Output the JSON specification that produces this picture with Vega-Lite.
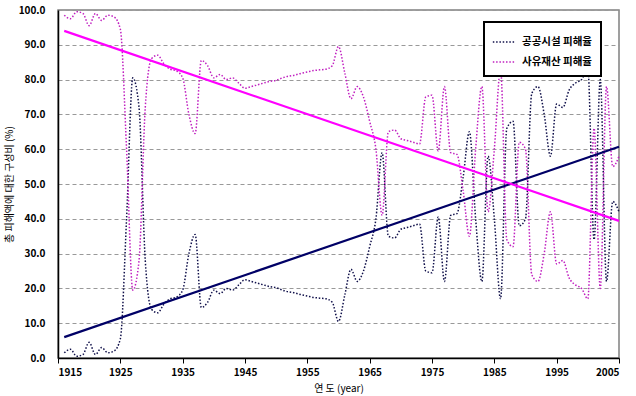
{
  "$schema": "https://vega.github.io/schema/vega-lite/v6.json",
  "width": 561,
  "height": 348,
  "autosize": {"type": "none"},
  "padding": {"left": 58, "top": 10, "right": 17, "bottom": 38},
  "background": "white",
  "config": {
    "font": "Noto Sans CJK KR",
    "view": {"stroke": "#808080", "strokeWidth": 1.5},
    "axis": {
      "labelFont": "Noto Sans CJK KR",
      "labelFontSize": 10,
      "labelFontWeight": "bold",
      "labelColor": "#000000",
      "titleFont": "Noto Sans CJK KR",
      "titleFontSize": 10,
      "titleFontWeight": "normal",
      "titleColor": "#000000",
      "domainColor": "#000000",
      "domainWidth": 1.5,
      "tickColor": "#000000"
    }
  },
  "datasets": {
    "obs": [
      {"year":1916,"series":"공공시설 피해율","value":1.5},{"year":1916,"series":"사유재산 피해율","value":98.5},
      {"year":1917,"series":"공공시설 피해율","value":2.5},{"year":1917,"series":"사유재산 피해율","value":97.5},
      {"year":1918,"series":"공공시설 피해율","value":0.5},{"year":1918,"series":"사유재산 피해율","value":99.5},
      {"year":1919,"series":"공공시설 피해율","value":1.0},{"year":1919,"series":"사유재산 피해율","value":99.0},
      {"year":1920,"series":"공공시설 피해율","value":4.5},{"year":1920,"series":"사유재산 피해율","value":95.5},
      {"year":1921,"series":"공공시설 피해율","value":1.0},{"year":1921,"series":"사유재산 피해율","value":99.0},
      {"year":1922,"series":"공공시설 피해율","value":3.0},{"year":1922,"series":"사유재산 피해율","value":97.0},
      {"year":1923,"series":"공공시설 피해율","value":1.5},{"year":1923,"series":"사유재산 피해율","value":98.5},
      {"year":1924,"series":"공공시설 피해율","value":2.0},{"year":1924,"series":"사유재산 피해율","value":98.0},
      {"year":1925,"series":"공공시설 피해율","value":5.5},{"year":1925,"series":"사유재산 피해율","value":94.5},
      {"year":1926,"series":"공공시설 피해율","value":40.0},{"year":1926,"series":"사유재산 피해율","value":60.0},
      {"year":1927,"series":"공공시설 피해율","value":80.5},{"year":1927,"series":"사유재산 피해율","value":19.5},
      {"year":1928,"series":"공공시설 피해율","value":72.0},{"year":1928,"series":"사유재산 피해율","value":28.0},
      {"year":1929,"series":"공공시설 피해율","value":28.0},{"year":1929,"series":"사유재산 피해율","value":72.0},
      {"year":1930,"series":"공공시설 피해율","value":14.0},{"year":1930,"series":"사유재산 피해율","value":86.0},
      {"year":1931,"series":"공공시설 피해율","value":13.0},{"year":1931,"series":"사유재산 피해율","value":87.0},
      {"year":1932,"series":"공공시설 피해율","value":15.5},{"year":1932,"series":"사유재산 피해율","value":84.5},
      {"year":1933,"series":"공공시설 피해율","value":17.0},{"year":1933,"series":"사유재산 피해율","value":83.0},
      {"year":1934,"series":"공공시설 피해율","value":17.5},{"year":1934,"series":"사유재산 피해율","value":82.5},
      {"year":1935,"series":"공공시설 피해율","value":19.5},{"year":1935,"series":"사유재산 피해율","value":80.5},
      {"year":1936,"series":"공공시설 피해율","value":30.0},{"year":1936,"series":"사유재산 피해율","value":70.0},
      {"year":1937,"series":"공공시설 피해율","value":35.5},{"year":1937,"series":"사유재산 피해율","value":64.5},
      {"year":1938,"series":"공공시설 피해율","value":14.5},{"year":1938,"series":"사유재산 피해율","value":85.5},
      {"year":1939,"series":"공공시설 피해율","value":16.0},{"year":1939,"series":"사유재산 피해율","value":84.0},
      {"year":1940,"series":"공공시설 피해율","value":19.5},{"year":1940,"series":"사유재산 피해율","value":80.5},
      {"year":1941,"series":"공공시설 피해율","value":18.5},{"year":1941,"series":"사유재산 피해율","value":81.5},
      {"year":1942,"series":"공공시설 피해율","value":20.0},{"year":1942,"series":"사유재산 피해율","value":80.0},
      {"year":1943,"series":"공공시설 피해율","value":19.5},{"year":1943,"series":"사유재산 피해율","value":80.5},
      {"year":1944,"series":"공공시설 피해율","value":21.0},{"year":1944,"series":"사유재산 피해율","value":79.0},
      {"year":1945,"series":"공공시설 피해율","value":22.5},{"year":1945,"series":"사유재산 피해율","value":77.5},
      {"year":1946,"series":"공공시설 피해율","value":22.0},{"year":1946,"series":"사유재산 피해율","value":78.0},
      {"year":1947,"series":"공공시설 피해율","value":21.5},{"year":1947,"series":"사유재산 피해율","value":78.5},
      {"year":1948,"series":"공공시설 피해율","value":21.0},{"year":1948,"series":"사유재산 피해율","value":79.0},
      {"year":1949,"series":"공공시설 피해율","value":20.5},{"year":1949,"series":"사유재산 피해율","value":79.5},
      {"year":1950,"series":"공공시설 피해율","value":20.2},{"year":1950,"series":"사유재산 피해율","value":79.8},
      {"year":1951,"series":"공공시설 피해율","value":19.5},{"year":1951,"series":"사유재산 피해율","value":80.5},
      {"year":1952,"series":"공공시설 피해율","value":19.0},{"year":1952,"series":"사유재산 피해율","value":81.0},
      {"year":1953,"series":"공공시설 피해율","value":18.7},{"year":1953,"series":"사유재산 피해율","value":81.3},
      {"year":1954,"series":"공공시설 피해율","value":18.2},{"year":1954,"series":"사유재산 피해율","value":81.8},
      {"year":1955,"series":"공공시설 피해율","value":17.8},{"year":1955,"series":"사유재산 피해율","value":82.2},
      {"year":1956,"series":"공공시설 피해율","value":17.4},{"year":1956,"series":"사유재산 피해율","value":82.6},
      {"year":1957,"series":"공공시설 피해율","value":17.2},{"year":1957,"series":"사유재산 피해율","value":82.8},
      {"year":1958,"series":"공공시설 피해율","value":17.0},{"year":1958,"series":"사유재산 피해율","value":83.0},
      {"year":1959,"series":"공공시설 피해율","value":16.0},{"year":1959,"series":"사유재산 피해율","value":84.0},
      {"year":1960,"series":"공공시설 피해율","value":10.5},{"year":1960,"series":"사유재산 피해율","value":89.5},
      {"year":1961,"series":"공공시설 피해율","value":18.0},{"year":1961,"series":"사유재산 피해율","value":82.0},
      {"year":1962,"series":"공공시설 피해율","value":25.5},{"year":1962,"series":"사유재산 피해율","value":74.5},
      {"year":1963,"series":"공공시설 피해율","value":22.0},{"year":1963,"series":"사유재산 피해율","value":78.0},
      {"year":1964,"series":"공공시설 피해율","value":25.0},{"year":1964,"series":"사유재산 피해율","value":75.0},
      {"year":1965,"series":"공공시설 피해율","value":32.0},{"year":1965,"series":"사유재산 피해율","value":68.0},
      {"year":1966,"series":"공공시설 피해율","value":40.0},{"year":1966,"series":"사유재산 피해율","value":60.0},
      {"year":1967,"series":"공공시설 피해율","value":59.0},{"year":1967,"series":"사유재산 피해율","value":41.0},
      {"year":1968,"series":"공공시설 피해율","value":35.0},{"year":1968,"series":"사유재산 피해율","value":65.0},
      {"year":1969,"series":"공공시설 피해율","value":34.5},{"year":1969,"series":"사유재산 피해율","value":65.5},
      {"year":1970,"series":"공공시설 피해율","value":37.0},{"year":1970,"series":"사유재산 피해율","value":63.0},
      {"year":1971,"series":"공공시설 피해율","value":37.5},{"year":1971,"series":"사유재산 피해율","value":62.5},
      {"year":1972,"series":"공공시설 피해율","value":38.0},{"year":1972,"series":"사유재산 피해율","value":62.0},
      {"year":1973,"series":"공공시설 피해율","value":38.5},{"year":1973,"series":"사유재산 피해율","value":61.5},
      {"year":1974,"series":"공공시설 피해율","value":25.0},{"year":1974,"series":"사유재산 피해율","value":75.0},
      {"year":1975,"series":"공공시설 피해율","value":24.5},{"year":1975,"series":"사유재산 피해율","value":75.5},
      {"year":1976,"series":"공공시설 피해율","value":40.5},{"year":1976,"series":"사유재산 피해율","value":59.5},
      {"year":1977,"series":"공공시설 피해율","value":22.0},{"year":1977,"series":"사유재산 피해율","value":78.0},
      {"year":1978,"series":"공공시설 피해율","value":41.0},{"year":1978,"series":"사유재산 피해율","value":59.0},
      {"year":1979,"series":"공공시설 피해율","value":41.5},{"year":1979,"series":"사유재산 피해율","value":58.5},
      {"year":1980,"series":"공공시설 피해율","value":52.0},{"year":1980,"series":"사유재산 피해율","value":48.0},
      {"year":1981,"series":"공공시설 피해율","value":65.0},{"year":1981,"series":"사유재산 피해율","value":35.0},
      {"year":1982,"series":"공공시설 피해율","value":40.0},{"year":1982,"series":"사유재산 피해율","value":60.0},
      {"year":1983,"series":"공공시설 피해율","value":22.0},{"year":1983,"series":"사유재산 피해율","value":78.0},
      {"year":1984,"series":"공공시설 피해율","value":58.0},{"year":1984,"series":"사유재산 피해율","value":42.0},
      {"year":1985,"series":"공공시설 피해율","value":40.0},{"year":1985,"series":"사유재산 피해율","value":60.0},
      {"year":1986,"series":"공공시설 피해율","value":17.0},{"year":1986,"series":"사유재산 피해율","value":83.0},
      {"year":1987,"series":"공공시설 피해율","value":66.0},{"year":1987,"series":"사유재산 피해율","value":34.0},
      {"year":1988,"series":"공공시설 피해율","value":68.0},{"year":1988,"series":"사유재산 피해율","value":32.0},
      {"year":1989,"series":"공공시설 피해율","value":38.0},{"year":1989,"series":"사유재산 피해율","value":62.0},
      {"year":1990,"series":"공공시설 피해율","value":40.0},{"year":1990,"series":"사유재산 피해율","value":60.0},
      {"year":1991,"series":"공공시설 피해율","value":76.0},{"year":1991,"series":"사유재산 피해율","value":24.0},
      {"year":1992,"series":"공공시설 피해율","value":78.0},{"year":1992,"series":"사유재산 피해율","value":22.0},
      {"year":1993,"series":"공공시설 피해율","value":70.0},{"year":1993,"series":"사유재산 피해율","value":30.0},
      {"year":1994,"series":"공공시설 피해율","value":58.0},{"year":1994,"series":"사유재산 피해율","value":42.0},
      {"year":1995,"series":"공공시설 피해율","value":73.0},{"year":1995,"series":"사유재산 피해율","value":27.0},
      {"year":1996,"series":"공공시설 피해율","value":72.0},{"year":1996,"series":"사유재산 피해율","value":28.0},
      {"year":1997,"series":"공공시설 피해율","value":77.0},{"year":1997,"series":"사유재산 피해율","value":23.0},
      {"year":1998,"series":"공공시설 피해율","value":79.0},{"year":1998,"series":"사유재산 피해율","value":21.0},
      {"year":1999,"series":"공공시설 피해율","value":80.0},{"year":1999,"series":"사유재산 피해율","value":20.0},
      {"year":2000,"series":"공공시설 피해율","value":83.0},{"year":2000,"series":"사유재산 피해율","value":17.0},
      {"year":2001,"series":"공공시설 피해율","value":34.0},{"year":2001,"series":"사유재산 피해율","value":66.0},
      {"year":2002,"series":"공공시설 피해율","value":80.0},{"year":2002,"series":"사유재산 피해율","value":20.0},
      {"year":2003,"series":"공공시설 피해율","value":22.0},{"year":2003,"series":"사유재산 피해율","value":78.0},
      {"year":2004,"series":"공공시설 피해율","value":45.0},{"year":2004,"series":"사유재산 피해율","value":55.0},
      {"year":2005,"series":"공공시설 피해율","value":42.0},{"year":2005,"series":"사유재산 피해율","value":58.0}
    ],
    "trend": [
      {"year":1916,"series":"공공","value":6.0},
      {"year":2005,"series":"공공","value":60.7},
      {"year":1916,"series":"사유","value":94.0},
      {"year":2005,"series":"사유","value":39.4}
    ]
  },
  "encoding": {
    "x": {
      "field": "year", "type": "quantitative",
      "scale": {"domain": [1915, 2005], "nice": false, "zero": false},
      "axis": {
        "values": [1915,1925,1935,1945,1955,1965,1975,1985,1995,2005],
        "format": "d", "title": "연 도 (year)", "grid": false, "labelOverlap": false,
        "tickSize": 5, "labelPadding": 4, "titlePadding": 6
      }
    },
    "y": {
      "field": "value", "type": "quantitative",
      "scale": {"domain": [0, 100], "nice": false},
      "axis": {
        "values": [0,10,20,30,40,50,60,70,80,90,100], "tickCount": 11,
        "format": ".1f", "title": "총 피해액에 대한 구성비 (%)", "labelOverlap": false,
        "grid": true, "gridDash": [4, 3], "gridColor": "#999999", "gridWidth": 1,
        "ticks": false, "labelPadding": 13, "titlePadding": 4
      }
    }
  },
  "layer": [
    {
      "data": {"name": "obs"},
      "mark": {"type": "line", "strokeDash": [1.5, 1.8], "strokeWidth": 1.5, "interpolate": "monotone"},
      "encoding": {
        "color": {
          "field": "series", "type": "nominal",
          "scale": {"domain": ["공공시설 피해율", "사유재산 피해율"], "range": ["#10104a", "#c020c0"]},
          "legend": {
            "orient": "none", "legendX": 426, "legendY": 12, "title": null,
            "symbolType": "stroke", "symbolDash": [1.5, 1.8], "symbolStrokeWidth": 1.5,
            "symbolSize": 500, "labelFontSize": 10.5, "labelFont": "Noto Sans CJK KR",
            "labelFontWeight": "bold", "labelColor": "#000000",
            "strokeColor": "#000000", "fillColor": "#ffffff", "padding": 8,
            "rowPadding": 2, "labelOffset": 6,
            "encode": {"legend": {"update": {"strokeWidth": {"value": 2}}}}
          }
        }
      }
    },
    {
      "data": {"name": "trend"},
      "transform": [{"filter": "datum.series === '공공'"}],
      "mark": {"type": "line", "color": "#000066", "strokeWidth": 2.2},
      "encoding": {}
    },
    {
      "data": {"name": "trend"},
      "transform": [{"filter": "datum.series === '사유'"}],
      "mark": {"type": "line", "color": "#ff00ff", "strokeWidth": 2.2},
      "encoding": {}
    }
  ]
}
